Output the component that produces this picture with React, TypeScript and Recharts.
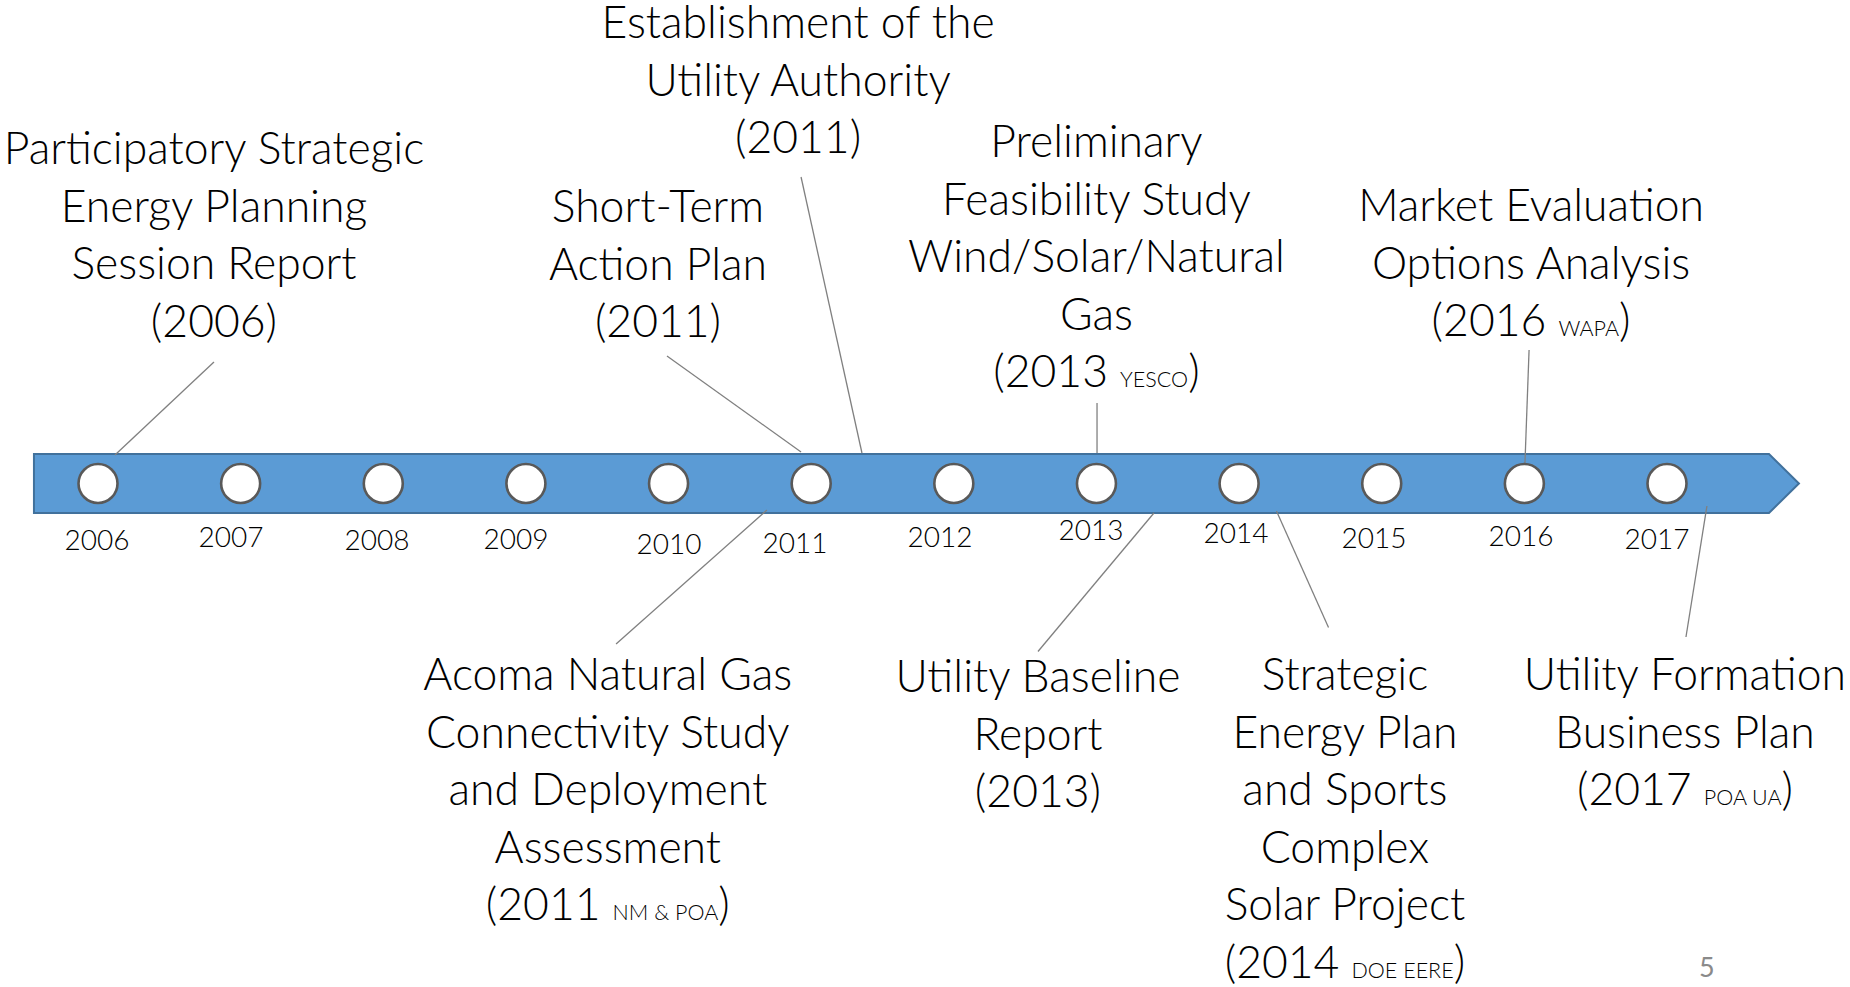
import React from 'react';
import {
  ComposedChart,
  XAxis,
  YAxis,
  Scatter,
  ReferenceArea,
  ReferenceLine,
} from 'recharts';

// ---------- data ----------
const YEARS = [2006, 2007, 2008, 2009, 2010, 2011, 2012, 2013, 2014, 2015, 2016, 2017];
const TIMELINE_LEVEL = 0;

// year tick label layout (px offset from milestone, baseline level)
const YEAR_LABEL_DX = [-1, -9.6, -6.3, -9.9, 0.5, -16.2, -13.8, -5.5, -3, -7.7, -3.4, -10];
const YEAR_LABEL_Y = [66, 63.5, 66, 65.5, 70.5, 69.5, 63.5, 56.5, 59, 64.5, 62.5, 65.5];

// timeline arrow extent (in years) and thickness (level units)
const ARROW_START = 2005.551;
const ARROW_BODY_END = 2017.715;
const ARROW_TIP = 2017.925;
const ARROW_HALF = 29.5;

const EVENT_TITLES: string[][] = [
  ['Participatory Strategic', 'Energy Planning', 'Session Report'],
  ['Short-Term', 'Action Plan'],
  ['Establishment of the', 'Utility Authority'],
  ['Preliminary', 'Feasibility Study', 'Wind/Solar/Natural', 'Gas'],
  ['Market Evaluation', 'Options Analysis'],
  ['Acoma Natural Gas', 'Connectivity Study', 'and Deployment', 'Assessment'],
  ['Utility Baseline', 'Report'],
  ['Strategic', 'Energy Plan', 'and Sports', 'Complex', 'Solar Project'],
  ['Utility Formation', 'Business Plan'],
];
const EVENT_YEARS = ['2006', '2011', '2011', '2013', '2016', '2011', '2013', '2014', '2017'];
const EVENT_SOURCES = ['', '', '', 'YESCO', 'WAPA', 'NM & POA', '', 'DOE EERE', 'POA UA'];
const EVENT_LABEL_X = [2006.813, 2009.926, 2010.908, 2013.0, 2016.047, 2009.574, 2012.59, 2014.742, 2017.126];
const EVENT_LABEL_Y = [-319.5, -261.5, -445.5, -326.5, -262.5, 206.5, 208.5, 206.5, 206.5];

const CONNECTOR_FROM_X = [2006.813, 2009.989, 2010.929, 2013.004, 2016.033, 2009.632, 2012.59, 2014.627, 2017.133];
const CONNECTOR_FROM_Y = [-121.5, -127.5, -306.5, -80.5, -133.5, 160.5, 168, 144, 153.5];
const CONNECTOR_TO_X = [2006.119, 2010.929, 2011.356, 2013.004, 2016.004, 2010.69, 2013.403, 2014.262, 2017.28];
const CONNECTOR_TO_Y = [-28.5, -31.5, -30.5, -30.5, -20, 26.5, 29.5, 27.5, 22.5];

const PAGE_NUMBER = '5';
const PAGE_NUMBER_X = 2017.28;
const PAGE_NUMBER_Y = 493.5;

// axis extents covering the whole canvas
const X_DOMAIN: [number, number] = [2005.3129, 2018.283];
const Y_DOMAIN: [number, number] = [-483.5, 503.5];

// ---------- styles ----------
const FONT = 'Lato, "Open Sans", sans-serif';
const MAIN_SIZE = 44.5;
const SMALL_SIZE = 21.5;
const LINE_H = 57.6;
const BAR_FILL = '#5B9BD5';
const BAR_STROKE = '#41719C';
const LINE_COLOR = '#808080';

const milestoneData = YEARS.map((y) => ({ x: y, y: TIMELINE_LEVEL }));
const yearLabelData = YEARS.map((y, i) => ({ x: y, y: YEAR_LABEL_Y[i], dx: YEAR_LABEL_DX[i], label: String(y) }));
const eventData = EVENT_TITLES.map((lines, i) => ({
  x: EVENT_LABEL_X[i],
  y: EVENT_LABEL_Y[i],
  lines,
  year: EVENT_YEARS[i],
  source: EVENT_SOURCES[i],
}));
const pageData = [{ x: PAGE_NUMBER_X, y: PAGE_NUMBER_Y, label: PAGE_NUMBER }];

const ArrowShape = (props: any) => {
  const { x, y, width, height } = props;
  const tip = (width * (ARROW_TIP - ARROW_BODY_END)) / (ARROW_TIP - ARROW_START);
  const bodyEnd = x + width - tip;
  const pts = [
    [x, y],
    [bodyEnd, y],
    [x + width, y + height / 2],
    [bodyEnd, y + height],
    [x, y + height],
  ]
    .map((p) => p.join(','))
    .join(' ');
  return <polygon points={pts} fill={BAR_FILL} stroke={BAR_STROKE} strokeWidth={2} />;
};

const MilestoneShape = (props: any) => (
  <circle cx={props.cx} cy={props.cy} r={19.5} fill="#ffffff" stroke="#595959" strokeWidth={2.6} />
);

const YearLabelShape = (props: any) => (
  <text
    x={props.cx + props.payload.dx}
    y={props.cy}
    textAnchor="middle"
    fontFamily={FONT}
    fontWeight={300}
    fontSize={28}
    fill="#000000"
  >
    {props.payload.label}
  </text>
);

const EventShape = (props: any) => {
  const { cx, cy, payload } = props;
  const lines: string[] = payload.lines;
  return (
    <g>
      {lines.map((ln, i) => (
        <text
          key={i}
          x={cx}
          y={cy + i * LINE_H}
          textAnchor="middle"
          fontFamily={FONT}
          fontWeight={300}
          fontSize={MAIN_SIZE}
          fill="#000000"
        >
          {ln}
        </text>
      ))}
      <text
        x={cx}
        y={cy + lines.length * LINE_H}
        textAnchor="middle"
        fontFamily={FONT}
        fontWeight={300}
        fontSize={MAIN_SIZE}
        fill="#000000"
      >
        <tspan>{'(' + payload.year + (payload.source ? ' ' : '')}</tspan>
        {payload.source ? <tspan fontSize={SMALL_SIZE}>{payload.source}</tspan> : null}
        <tspan>)</tspan>
      </text>
    </g>
  );
};

const PageShape = (props: any) => (
  <text x={props.cx} y={props.cy} textAnchor="middle" fontFamily={FONT} fontSize={27} fill="#8a8a8a">
    {props.payload.label}
  </text>
);

export default function App() {
  return (
    <div style={{ position: 'absolute', left: 0, top: 0, width: 1850, height: 987, background: '#fff' }}>
      <ComposedChart width={1850} height={987} margin={{ top: 0, right: 0, bottom: 0, left: 0 }}>
        <XAxis type="number" dataKey="x" domain={X_DOMAIN} allowDataOverflow hide />
        <YAxis type="number" dataKey="y" domain={Y_DOMAIN} reversed allowDataOverflow hide />
        <ReferenceArea
          x1={ARROW_START}
          x2={ARROW_TIP}
          y1={-ARROW_HALF}
          y2={ARROW_HALF}
          shape={<ArrowShape />}
          ifOverflow="visible"
        />
        {CONNECTOR_FROM_X.map((fx, i) => (
          <ReferenceLine
            key={'c' + i}
            segment={[
              { x: fx, y: CONNECTOR_FROM_Y[i] },
              { x: CONNECTOR_TO_X[i], y: CONNECTOR_TO_Y[i] },
            ]}
            stroke={LINE_COLOR}
            strokeWidth={1.3}
            ifOverflow="visible"
          />
        ))}
        <Scatter data={milestoneData} shape={MilestoneShape} isAnimationActive={false} />
        <Scatter data={yearLabelData} shape={YearLabelShape} isAnimationActive={false} />
        <Scatter data={eventData} shape={EventShape} isAnimationActive={false} />
        <Scatter data={pageData} shape={PageShape} isAnimationActive={false} />
      </ComposedChart>
    </div>
  );
}
